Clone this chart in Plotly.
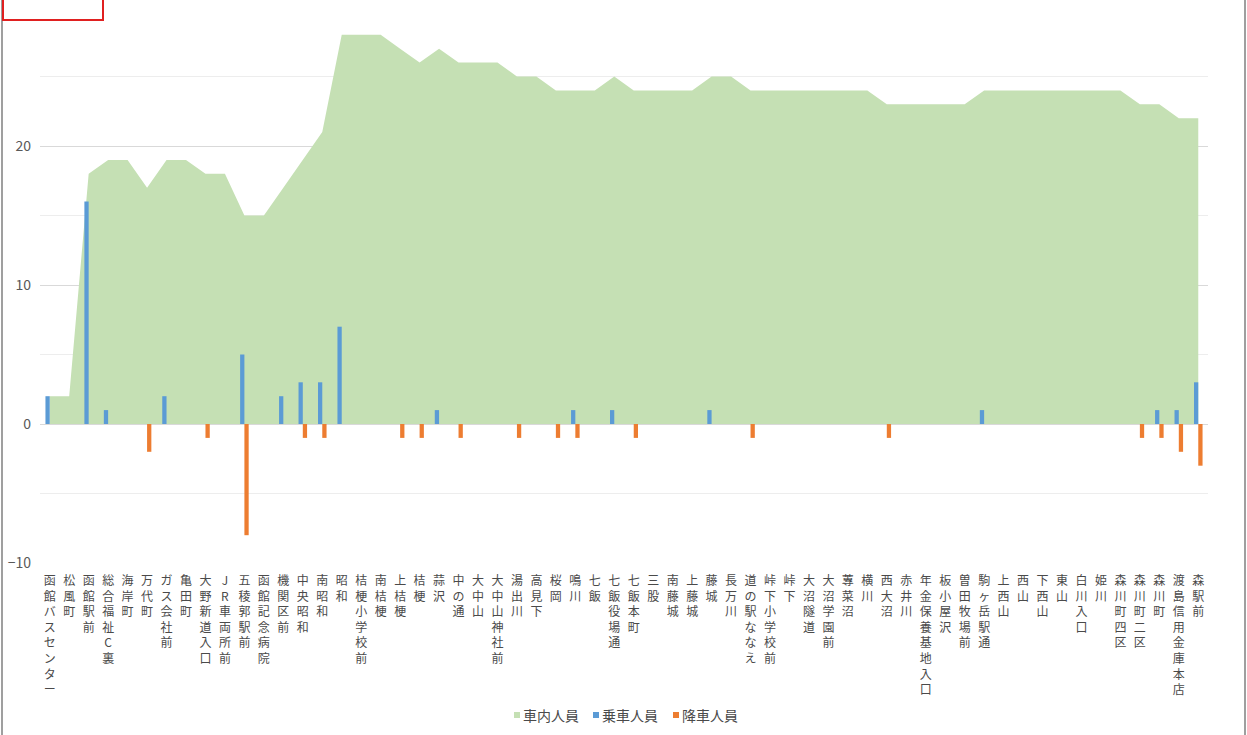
import plotly.graph_objects as go

stations = [
    "函館バスセンター", "松風町", "函館駅前", "総合福祉C裏", "海岸町", "万代町",
    "ガス会社前", "亀田町", "大野新道入口", "JR車両所前", "五稜郭駅前", "函館記念病院",
    "機関区前", "中央昭和", "南昭和", "昭和", "桔梗小学校前", "南桔梗", "上桔梗", "桔梗",
    "蒜沢", "中の通", "大中山", "大中山神社前", "湯出川", "高見下", "桜岡", "鳴川", "七飯",
    "七飯役場通", "七飯本町", "三股", "南藤城", "上藤城", "藤城", "長万川", "道の駅ななえ",
    "峠下小学校前", "峠下", "大沼隧道", "大沼学園前", "蓴菜沼", "横川", "西大沼", "赤井川",
    "年金保養基地入口", "板小屋沢", "曽田牧場前", "駒ヶ岳駅通", "上西山", "西山", "下西山",
    "東山", "白川入口", "姫川", "森川町四区", "森川町二区", "森川町", "渡島信用金庫本店", "森駅前",
]

onboard = [2, 2, 18, 19, 19, 17, 19, 19, 18, 18, 15, 15, 17, 19, 21, 28, 28, 28, 27, 26,
           27, 26, 26, 26, 25, 25, 24, 24, 24, 25, 24, 24, 24, 24, 25, 25, 24, 24, 24, 24,
           24, 24, 24, 23, 23, 23, 23, 23, 24, 24, 24, 24, 24, 24, 24, 24, 23, 23, 22, 22]

boarding = [2, 0, 16, 1, 0, 0, 2, 0, 0, 0, 5, 0, 2, 3, 3, 7, 0, 0, 0, 0,
            1, 0, 0, 0, 0, 0, 0, 1, 0, 1, 0, 0, 0, 0, 1, 0, 0, 0, 0, 0,
            0, 0, 0, 0, 0, 0, 0, 0, 1, 0, 0, 0, 0, 0, 0, 0, 0, 1, 1, 3]

alighting = [0, 0, 0, 0, 0, 2, 0, 0, 1, 0, 8, 0, 0, 1, 1, 0, 0, 0, 1, 1,
             0, 1, 0, 0, 1, 0, 1, 1, 0, 0, 1, 0, 0, 0, 0, 0, 1, 0, 0, 0,
             0, 0, 0, 1, 0, 0, 0, 0, 0, 0, 0, 0, 0, 0, 0, 0, 1, 1, 2, 3]

series_names = ["車内人員", "乗車人員", "降車人員"]
y_ticks = [-10, 0, 10, 20, 30]
y_range = [-10, 30]

GREEN = "#C5E0B4"
BLUE = "#5B9BD5"
ORANGE = "#ED7D31"
FONT = "Noto Sans CJK JP"
TXT = "#4A4A4A"

tick_text = ["<br>".join(list(s)) for s in stations]

W, H = 1247, 735
PL, PR, PT, PB = 40, 1208, 7, 563


def px_x(x):
    return (x - PL) / (PR - PL)


def px_y(y):
    return (PB - y) / (PB - PT)


fig = go.Figure()

fig.add_trace(go.Scatter(
    x=stations, y=onboard, mode="lines", fill="tozeroy",
    line=dict(width=0, color=GREEN), fillcolor=GREEN,
    name=series_names[0], showlegend=False,
))
# bars live on an overlaid y-axis (same scale) so they draw above the area
fig.add_trace(go.Bar(
    x=stations, y=boarding, marker=dict(color=BLUE, line=dict(width=0)),
    name=series_names[1], showlegend=False, yaxis="y2",
))
fig.add_trace(go.Bar(
    x=stations, y=[-a for a in alighting], marker=dict(color=ORANGE, line=dict(width=0)),
    name=series_names[2], showlegend=False, yaxis="y2",
))

# legend drawn by hand: small square key + label, like the original
legend_key_x = [514, 593, 673]
legend_cy = 715
shapes = [
    dict(type="line", xref="paper", yref="paper",
         x0=px_x(2), x1=px_x(2), y0=px_y(0), y1=px_y(735),
         line=dict(color="#7F7F7F", width=1.5), layer="above"),
    dict(type="line", xref="paper", yref="paper",
         x0=px_x(1245), x1=px_x(1245), y0=px_y(0), y1=px_y(735),
         line=dict(color="#7F7F7F", width=1.5), layer="above"),
    dict(type="rect", xref="paper", yref="paper",
         x0=px_x(3), x1=px_x(103), y0=px_y(20), y1=px_y(-2),
         line=dict(color="#E02020", width=2), fillcolor="white", layer="above"),
]
annotations = []
for nm, col, kx in zip(series_names, [GREEN, BLUE, ORANGE], legend_key_x):
    shapes.append(dict(
        type="rect", xref="paper", yref="paper",
        x0=px_x(kx), x1=px_x(kx + 6), y0=px_y(legend_cy + 3), y1=px_y(legend_cy - 3),
        line=dict(width=0), fillcolor=col, layer="above",
    ))
    annotations.append(dict(
        xref="paper", yref="paper", x=px_x(kx + 7), y=px_y(legend_cy),
        xanchor="left", yanchor="middle", showarrow=False, text=nm,
        font=dict(size=14, color=TXT, family=FONT),
    ))

fig.update_layout(
    width=W, height=H, autosize=False,
    margin=dict(l=PL, r=W - PR, t=PT, b=H - PB, pad=0),
    paper_bgcolor="white", plot_bgcolor="white",
    font=dict(family=FONT, color=TXT),
    barmode="group", bargap=0.56, bargroupgap=0,
    showlegend=False,
    xaxis=dict(
        type="category", categoryorder="array", categoryarray=stations,
        range=[-0.5, len(stations) - 0.5],
        tickmode="array", tickvals=stations, ticktext=tick_text,
        tickangle=0, tickfont=dict(size=12, color=TXT, family=FONT),
        showgrid=False, showline=False, zeroline=False, ticks="",
        ticklabelstandoff=9,
    ),
    yaxis=dict(
        range=y_range, tickmode="array", tickvals=y_ticks,
        tickfont=dict(size=14, color="#595959", family=FONT),
        gridcolor="#D9D9D9", gridwidth=1, zeroline=False, showline=False,
        ticks="", ticklabelstandoff=8,
        minor=dict(dtick=5, tick0=0, showgrid=True, gridcolor="#EDEDED", gridwidth=1),
    ),
    yaxis2=dict(
        range=y_range, overlaying="y", visible=False, showgrid=False, zeroline=False,
    ),
    shapes=shapes,
    annotations=annotations,
)

fig.write_html("out.html", config={"displayModeBar": False},
               post_script="document.body.style.margin='0';")
